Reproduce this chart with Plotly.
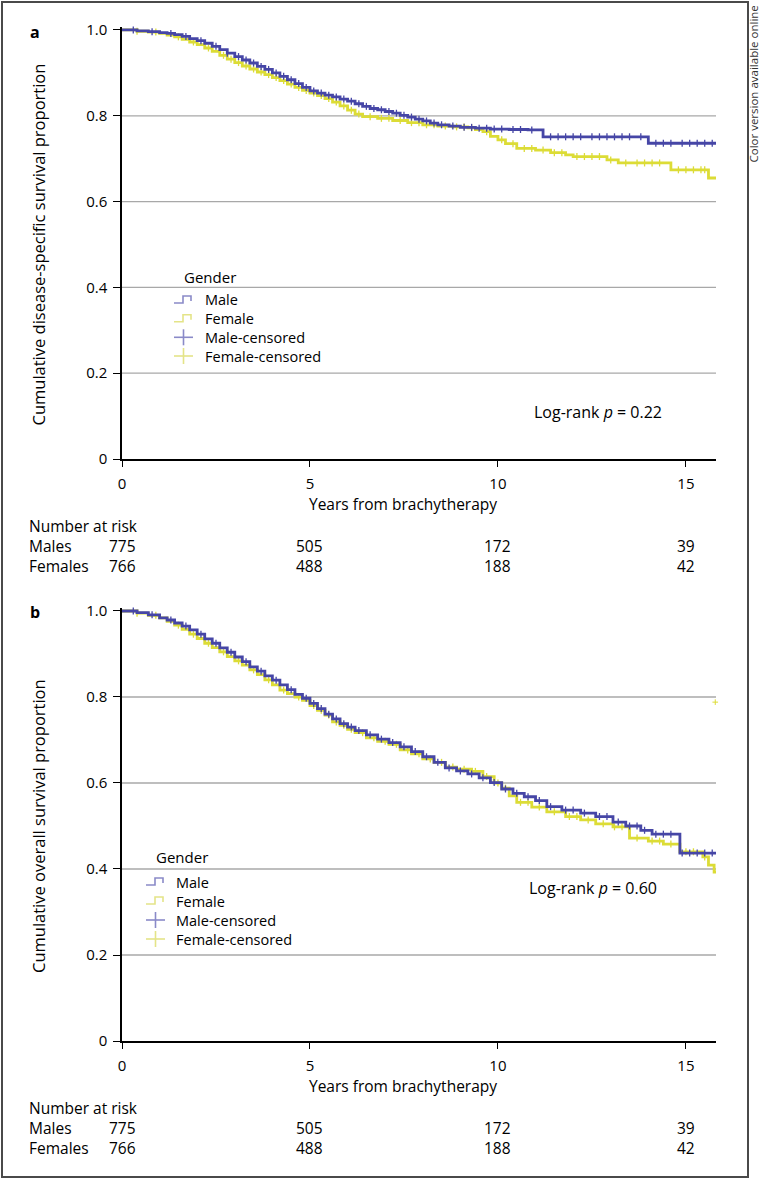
import numpy as np
import plotly.graph_objects as go

W, H = 761, 1180
FONT = "Open Sans"
BLUE = "#4646a6"
YELLOW = "#dcdc36"
BLUE_LIGHT = "#8a8ac8"
YELLOW_LIGHT = "#e4e488"

# ---------------- data ----------------
# Panel a: disease-specific survival (Kaplan-Meier)
dss_male_t = [0, 0.4, 0.7, 1.0, 1.2, 1.4, 1.6, 1.8, 2.0, 2.2, 2.4, 2.6, 2.8, 3.0, 3.2, 3.4, 3.6,
              3.8, 4.0, 4.2, 4.4, 4.6, 4.8, 5.0, 5.2, 5.4, 5.6, 5.8, 6.0, 6.2, 6.4, 6.6, 6.8, 7.0,
              7.2, 7.4, 7.6, 7.8, 8.0, 8.2, 8.4, 8.7, 9.0, 9.4, 9.8, 10.3, 10.8, 11.2, 14.0, 15.8]
dss_male_s = [1.0, 0.998, 0.996, 0.994, 0.992, 0.989, 0.985, 0.98, 0.975, 0.969, 0.962, 0.954,
              0.946, 0.938, 0.930, 0.923, 0.915, 0.908, 0.900, 0.892, 0.884, 0.875, 0.866, 0.858,
              0.853, 0.848, 0.844, 0.839, 0.834, 0.828, 0.822, 0.817, 0.814, 0.810, 0.806, 0.801,
              0.797, 0.792, 0.788, 0.783, 0.779, 0.776, 0.773, 0.771, 0.769, 0.768, 0.767, 0.751,
              0.736, 0.736]
dss_female_t = [0, 0.4, 0.7, 1.0, 1.2, 1.4, 1.6, 1.8, 2.0, 2.2, 2.4, 2.6, 2.8, 3.0, 3.2, 3.4,
                3.6, 3.8, 4.0, 4.2, 4.4, 4.6, 4.8, 5.0, 5.2, 5.4, 5.6, 5.8, 6.0, 6.2, 6.4, 6.8,
                7.2, 7.6, 8.0, 8.4, 8.8, 9.2, 9.4, 9.6, 9.8, 10.0, 10.2, 10.5, 11.0, 11.4, 11.8,
                12.0, 12.9, 13.2, 14.6, 15.6, 15.8]
dss_female_s = [1.0, 0.997, 0.995, 0.992, 0.988, 0.984, 0.978, 0.972, 0.966, 0.958, 0.950, 0.941,
                0.932, 0.924, 0.916, 0.909, 0.902, 0.896, 0.889, 0.882, 0.874, 0.866, 0.859,
                0.853, 0.847, 0.840, 0.832, 0.823, 0.813, 0.804, 0.798, 0.794, 0.789, 0.784,
                0.779, 0.776, 0.774, 0.772, 0.768, 0.763, 0.752, 0.744, 0.735, 0.724, 0.720,
                0.714, 0.709, 0.705, 0.697, 0.690, 0.674, 0.655, 0.655]

# Panel b: overall survival
os_male_t = [0, 0.4, 0.7, 1.0, 1.2, 1.4, 1.6, 1.8, 2.0, 2.2, 2.4, 2.6, 2.8, 3.0, 3.2, 3.4, 3.6,
             3.8, 4.0, 4.2, 4.4, 4.6, 4.8, 5.0, 5.2, 5.4, 5.6, 5.8, 6.0, 6.2, 6.5, 6.8, 7.1, 7.4,
             7.7, 8.0, 8.3, 8.6, 8.9, 9.2, 9.5, 9.8, 10.1, 10.4, 10.7, 11.0, 11.3, 11.7, 12.2,
             12.6, 13.06, 13.4, 13.8, 14.1, 14.84, 15.8]
os_male_s = [1.0, 0.996, 0.991, 0.984, 0.979, 0.972, 0.965, 0.956, 0.946, 0.935, 0.925, 0.914,
             0.904, 0.893, 0.882, 0.870, 0.860, 0.849, 0.839, 0.828, 0.817, 0.806, 0.797, 0.785,
             0.773, 0.760, 0.749, 0.738, 0.730, 0.722, 0.712, 0.702, 0.694, 0.684, 0.673, 0.661,
             0.648, 0.635, 0.628, 0.621, 0.612, 0.601, 0.586, 0.576, 0.568, 0.559, 0.545, 0.537,
             0.530, 0.522, 0.509, 0.500, 0.490, 0.481, 0.437, 0.437]
os_female_t = [0, 0.4, 0.7, 1.0, 1.2, 1.4, 1.6, 1.8, 2.0, 2.2, 2.4, 2.6, 2.8, 3.0, 3.2, 3.4, 3.6,
               3.8, 4.0, 4.2, 4.4, 4.6, 4.8, 5.0, 5.2, 5.4, 5.6, 5.8, 6.0, 6.2, 6.5, 6.8, 7.1,
               7.4, 7.7, 8.0, 8.3, 8.6, 8.9, 9.3, 9.6, 9.9, 10.1, 10.3, 10.5, 10.9, 11.3, 11.8,
               12.2, 12.6, 13.06, 13.5, 14.0, 14.4, 14.84, 15.45, 15.6, 15.75, 15.8]
os_female_s = [1.0, 0.995, 0.990, 0.984, 0.976, 0.967, 0.957, 0.946, 0.936, 0.925, 0.915, 0.905,
               0.894, 0.884, 0.874, 0.863, 0.852, 0.840, 0.828, 0.816, 0.808, 0.800, 0.792,
               0.780, 0.769, 0.758, 0.742, 0.734, 0.725, 0.717, 0.705, 0.697, 0.690, 0.677,
               0.668, 0.656, 0.648, 0.637, 0.632, 0.627, 0.615, 0.600, 0.588, 0.570, 0.555,
               0.544, 0.533, 0.522, 0.514, 0.505, 0.498, 0.472, 0.465, 0.458, 0.440, 0.428,
               0.409, 0.393, 0.393]
# stray censor mark visible near the right end of panel b
os_female_stray_t = [15.78]
os_female_stray_s = [0.788]

# censoring times (years)
dss_male_cens = [0.3, 0.8, 1.3, 1.7, 2.1, 2.5, 2.8, 3.1, 3.3, 3.5, 3.7, 3.9, 4.1, 4.3, 4.5, 4.7,
                 4.9, 5.1, 5.3, 5.5, 5.7, 5.9, 6.1, 6.3, 6.5, 6.7, 6.9, 7.1, 7.3, 7.5, 7.7, 7.9,
                 8.1, 8.3, 8.5, 8.8, 9.1, 9.3, 9.5, 9.7, 9.9, 10.1, 10.4, 10.6, 10.9, 11.4, 11.6,
                 11.8, 12.0, 12.2, 12.5, 12.7, 12.9, 13.1, 13.3, 13.5, 13.8, 14.2, 14.4, 14.6,
                 14.9, 15.1, 15.3, 15.5, 15.7]
dss_female_cens = [0.4, 0.9, 1.5, 1.9, 2.3, 2.7, 2.9, 3.1, 3.3, 3.5, 3.7, 3.9, 4.1, 4.3, 4.5,
                   4.7, 4.9, 5.1, 5.3, 5.5, 5.7, 5.9, 6.1, 6.3, 6.6, 6.9, 7.1, 7.4, 7.7, 7.9,
                   8.1, 8.3, 8.6, 8.9, 9.1, 9.3, 9.7, 10.1, 10.4, 10.7, 10.9, 11.2, 11.5, 11.7,
                   12.1, 12.3, 12.5, 12.7, 13.0, 13.4, 13.7, 13.9, 14.1, 14.3, 14.8, 15.0, 15.2,
                   15.4, 15.5]
os_male_cens = [0.3, 0.8, 1.3, 1.7, 2.1, 2.5, 2.9, 3.3, 3.7, 4.1, 4.5, 4.9, 5.1, 5.3, 5.5, 5.7,
                5.9, 6.1, 6.3, 6.6, 6.9, 7.2, 7.5, 7.8, 8.1, 8.4, 8.7, 9.0, 9.3, 9.6, 9.9, 10.2,
                10.5, 10.8, 11.1, 11.4, 11.8, 12.0, 12.3, 12.7, 12.9, 13.2, 13.5, 13.7, 13.9,
                14.2, 14.4, 14.6, 14.9, 15.1, 15.3, 15.5, 15.7]
os_female_cens = [0.4, 0.9, 1.5, 1.9, 2.3, 2.7, 3.1, 3.5, 3.9, 4.3, 4.7, 5.1, 5.3, 5.5, 5.7, 5.9,
                  6.1, 6.4, 6.7, 7.0, 7.3, 7.6, 7.9, 8.2, 8.5, 8.8, 9.1, 9.4, 9.7, 10.0, 10.2,
                  10.6, 10.8, 11.1, 11.5, 11.9, 12.1, 12.4, 12.8, 13.1, 13.3, 13.7, 14.1, 14.3,
                  14.6, 15.0, 15.2, 15.5]

# number at risk
risk_times = [0, 5, 10, 15]
risk_males = [775, 505, 172, 39]
risk_females = [766, 488, 188, 42]

x_ticks = [0, 5, 10, 15]
y_ticks = [0, 0.2, 0.4, 0.6, 0.8, 1.0]
y_ticktext = ["0", "0.2", "0.4", "0.6", "0.8", "1.0"]

legend_title = "Gender"
legend_labels = ["Male", "Female", "Male-censored", "Female-censored"]
panel_titles = ["Cumulative disease-specific survival proportion",
                "Cumulative overall survival proportion"]
p_texts = ["Log-rank <i>p</i> = 0.22", "Log-rank <i>p</i> = 0.60"]
# ---------------------------------------


def px(x):
    return x / W


def py(y):
    return 1 - y / H


def step_lookup(times, surv, c):
    idx = np.searchsorted(np.asarray(times), np.asarray(c), side="right") - 1
    return np.asarray(surv)[idx]


fig = go.Figure()

panels = [
    dict(xa="x", ya="y", mt=dss_male_t, ms=dss_male_s, ft=dss_female_t, fs=dss_female_s,
         mc=dss_male_cens, fc=dss_female_cens),
    dict(xa="x2", ya="y2", mt=os_male_t, ms=os_male_s, ft=os_female_t, fs=os_female_s,
         mc=os_male_cens, fc=os_female_cens),
]

for p in panels:
    for t, s, c, col in [(p["ft"], p["fs"], p["fc"], YELLOW), (p["mt"], p["ms"], p["mc"], BLUE)]:
        fig.add_trace(go.Scatter(x=t, y=s, mode="lines", line=dict(color=col, width=2.8, shape="hv"),
                                 xaxis=p["xa"], yaxis=p["ya"], showlegend=False, hoverinfo="skip"))
        fig.add_trace(go.Scatter(x=c, y=step_lookup(t, s, c), mode="markers",
                                 marker=dict(symbol="line-ns", size=5,
                                             line=dict(color=col, width=1.3)),
                                 xaxis=p["xa"], yaxis=p["ya"], showlegend=False,
                                 hoverinfo="skip", cliponaxis=False))

fig.add_trace(go.Scatter(x=os_female_stray_t, y=os_female_stray_s, mode="markers",
                         marker=dict(symbol="cross-thin", size=4, line=dict(color=YELLOW, width=1)),
                         xaxis="x2", yaxis="y2", showlegend=False, hoverinfo="skip", cliponaxis=False))

x_dom = [px(122), px(716)]
ya_dom = [py(459), py(27.4)]
yb_dom = [py(1041), py(608.4)]

axis_common = dict(showline=True, linecolor="black", linewidth=1.5, ticks="outside",
                   tickcolor="black", tickwidth=1.2, zeroline=False, showgrid=False,
                   automargin=False,
                   tickfont=dict(family=FONT, size=15, color="black"))

xax = dict(axis_common, domain=x_dom, range=[0, 15.8], tickvals=x_ticks, ticklen=6,
           ticklabelstandoff=4)
yax_common = dict(axis_common, range=[0, 1.006], tickvals=y_ticks, ticktext=y_ticktext,
                  ticklen=7, ticklabelstandoff=3)

fig.update_layout(
    width=W, height=H, margin=dict(l=0, r=0, t=0, b=0, autoexpand=False),
    paper_bgcolor="white", plot_bgcolor="white",
    font=dict(family=FONT, size=15, color="black"),
    xaxis=dict(xax, anchor="y"),
    yaxis=dict(yax_common, domain=ya_dom, anchor="x"),
    xaxis2=dict(xax, anchor="y2"),
    yaxis2=dict(yax_common, domain=yb_dom, anchor="x2"),
    showlegend=False,
)

shapes = []
annotations = []

panel_layout = [
    dict(xa="x", ya="y", top=30, bottom=459, letter="a", letter_y=32, title=panel_titles[0],
         ptext=p_texts[0], p_x=598, p_y=412,
         leg_x_icon=174, leg_x_text=203, leg_title_x=182, leg_title_y=277,
         leg_rows=[300, 318.7, 337.3, 356], xtitle_y=504, risk_y=[526, 546, 566]),
    dict(xa="x2", ya="y2", top=611, bottom=1041, letter="b", letter_y=612, title=panel_titles[1],
         ptext=p_texts[1], p_x=593, p_y=888,
         leg_x_icon=146, leg_x_text=174, leg_title_x=154, leg_title_y=857,
         leg_rows=[882, 901, 920, 939], xtitle_y=1086, risk_y=[1108, 1128, 1148]),
]

for L in panel_layout:
    for v in y_ticks[1:-1]:
        shapes.append(dict(type="line", xref=L["xa"] + " domain", yref=L["ya"], x0=0, x1=1,
                           y0=v, y1=v, line=dict(color="#a8a8a8", width=1.3), layer="below"))
    annotations.append(dict(text="<b>" + L["letter"] + "</b>", xref="paper", yref="paper",
                            x=px(28), y=py(L["letter_y"]), xanchor="left", yanchor="middle",
                            showarrow=False, font=dict(size=16)))
    annotations.append(dict(text=L["title"], xref="paper", yref="paper", x=px(38),
                            y=py((L["top"] + L["bottom"]) / 2), textangle=-90,
                            xanchor="center", yanchor="middle", showarrow=False,
                            font=dict(size=16.5)))
    annotations.append(dict(text="Years from brachytherapy", xref="paper",
                            yref="paper", x=px(403), y=py(L["xtitle_y"]), xanchor="center",
                            yanchor="middle", showarrow=False, font=dict(size=15.5)))
    annotations.append(dict(text=L["ptext"], xref="paper", yref="paper", x=px(L["p_x"]),
                            y=py(L["p_y"]), xanchor="center", yanchor="middle",
                            showarrow=False, font=dict(size=16)))
    # number at risk
    annotations.append(dict(text="Number at risk", xref="paper", yref="paper", x=px(27),
                            y=py(L["risk_y"][0]), xanchor="left", yanchor="middle",
                            showarrow=False, font=dict(size=15.5)))
    for lab, vals, yy in [("Males", risk_males, L["risk_y"][1]),
                          ("Females", risk_females, L["risk_y"][2])]:
        annotations.append(dict(text=lab, xref="paper", yref="paper", x=px(27), y=py(yy),
                                xanchor="left", yanchor="middle", showarrow=False,
                                font=dict(size=15.5)))
        for t, v in zip(risk_times, vals):
            annotations.append(dict(text=str(v), xref=L["xa"], yref="paper", x=t, y=py(yy),
                                    xanchor="center", yanchor="middle", showarrow=False,
                                    font=dict(size=15.5)))
    # legend (title + one multi-line text block)
    annotations.append(dict(text=legend_title, xref="paper", yref="paper",
                            x=px(L["leg_title_x"]), y=py(L["leg_title_y"]), xanchor="left",
                            yanchor="middle", showarrow=False, font=dict(size=15)))
    rows = L["leg_rows"]
    annotations.append(dict(text="<br>".join(legend_labels), xref="paper", yref="paper",
                            x=px(L["leg_x_text"]), y=py((rows[0] + rows[-1]) / 2),
                            xanchor="left", yanchor="middle", align="left", showarrow=False,
                            font=dict(size=14.5)))
    xi = L["leg_x_icon"]
    for i, yy in enumerate(rows):
        col = [BLUE_LIGHT, YELLOW_LIGHT, BLUE_LIGHT, YELLOW_LIGHT][i]
        if i < 2:
            path = (f"M {px(xi)},{py(yy + 3)} L {px(xi + 9)},{py(yy + 3)} "
                    f"L {px(xi + 9)},{py(yy - 4)} L {px(xi + 17)},{py(yy - 4)} "
                    f"L {px(xi + 17)},{py(yy + 1)}")
            shapes.append(dict(type="path", xref="paper", yref="paper", path=path,
                               line=dict(color=col, width=1.6)))
        else:
            shapes.append(dict(type="line", xref="paper", yref="paper", x0=px(xi),
                               x1=px(xi + 19), y0=py(yy), y1=py(yy),
                               line=dict(color=col, width=1.6)))
            shapes.append(dict(type="line", xref="paper", yref="paper", x0=px(xi + 9.5),
                               x1=px(xi + 9.5), y0=py(yy - 8), y1=py(yy + 8),
                               line=dict(color=col, width=1.6)))

# outer frame
shapes.append(dict(type="rect", xref="paper", yref="paper", x0=px(2), x1=px(748),
                   y0=py(1177), y1=py(2), line=dict(color="#4a4a4a", width=2)))
annotations.append(dict(text="Color version available online", xref="paper", yref="paper",
                        x=px(753), y=py(4), textangle=-90, xanchor="center", yanchor="top",
                        showarrow=False, font=dict(size=11.5, color="#333333")))

fig.update_layout(shapes=shapes, annotations=annotations)
fig.write_html("out.html", config={"displayModeBar": False},
               post_script="document.body.style.margin='0px';document.body.style.overflow='hidden';")
